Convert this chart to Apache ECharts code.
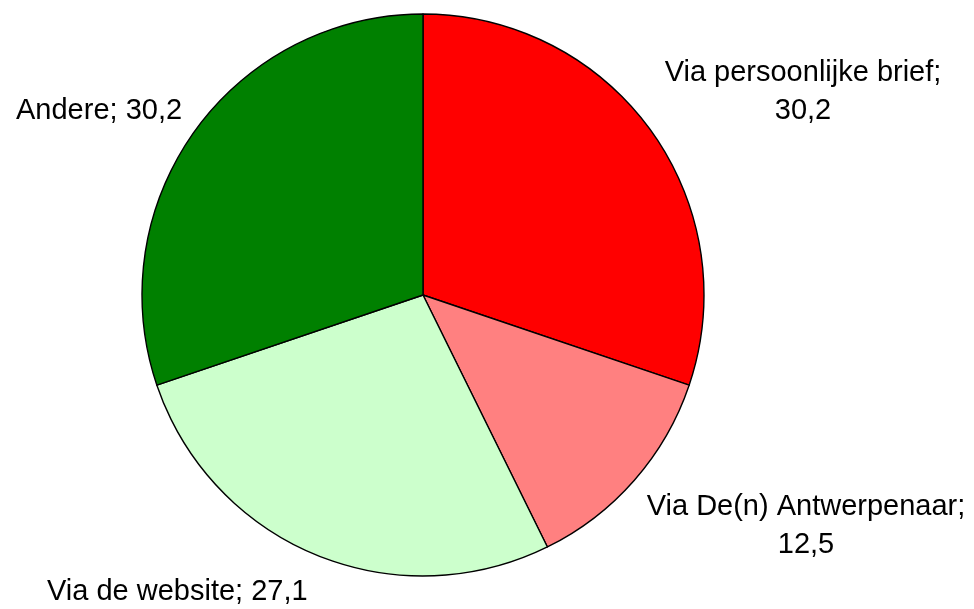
<!DOCTYPE html>
<html>
<head>
<meta charset="utf-8">
<title>Pie</title>
<script src="https://cdn.jsdelivr.net/npm/echarts@6/dist/echarts.min.js"></script>
<style>
  html, body { margin: 0; padding: 0; background: #fff; }
  #chart { width: 974px; height: 609px; }
</style>
</head>
<body>
<div id="chart"></div>
<script>
// data
const categories = ['Via persoonlijke brief', 'Via De(n) Antwerpenaar', 'Via de website', 'Andere'];
const values = [30.2, 12.5, 27.1, 30.2];
const colors = ['#ff0000', '#ff8080', '#ccffcc', '#008000'];
// label on two lines or not
const wrapLabel = [true, true, false, false];

// where each label sits (x, y, align)
const labelPos = [
  { x: 803, y: 92, align: 'center' },
  { x: 806, y: 526, align: 'center' },
  { x: 47, y: 592, align: 'left' },
  { x: 16, y: 111, align: 'left' }
];

const chart = echarts.init(document.getElementById('chart'));

const option = {
  animation: false,
  series: [
    {
      type: 'pie',
      center: [423, 295],
      radius: 281,
      startAngle: 90,
      clockwise: true,
      avoidLabelOverlap: false,
      data: categories.map((name, i) => ({
        name: name,
        value: values[i],
        itemStyle: { color: colors[i] }
      })),
      itemStyle: { borderColor: '#000', borderWidth: 1.4 },
      label: {
        show: true,
        position: 'outside',
        fontFamily: 'Liberation Sans, Arial, sans-serif',
        fontSize: 29,
        lineHeight: 38,
        color: '#000',
        align: 'center',
        formatter: p => {
          const v = p.value.toFixed(1).replace('.', ',');
          return p.name + ';' + (wrapLabel[p.dataIndex] ? '\n' : ' ') + v;
        }
      },
      labelLine: { show: false },
      labelLayout: p => {
        const pos = labelPos[p.dataIndex];
        return { x: pos.x, y: pos.y, align: pos.align, verticalAlign: 'middle' };
      },
      emphasis: { disabled: true }
    }
  ]
};

option && chart.setOption(option);
</script>
</body>
</html>
